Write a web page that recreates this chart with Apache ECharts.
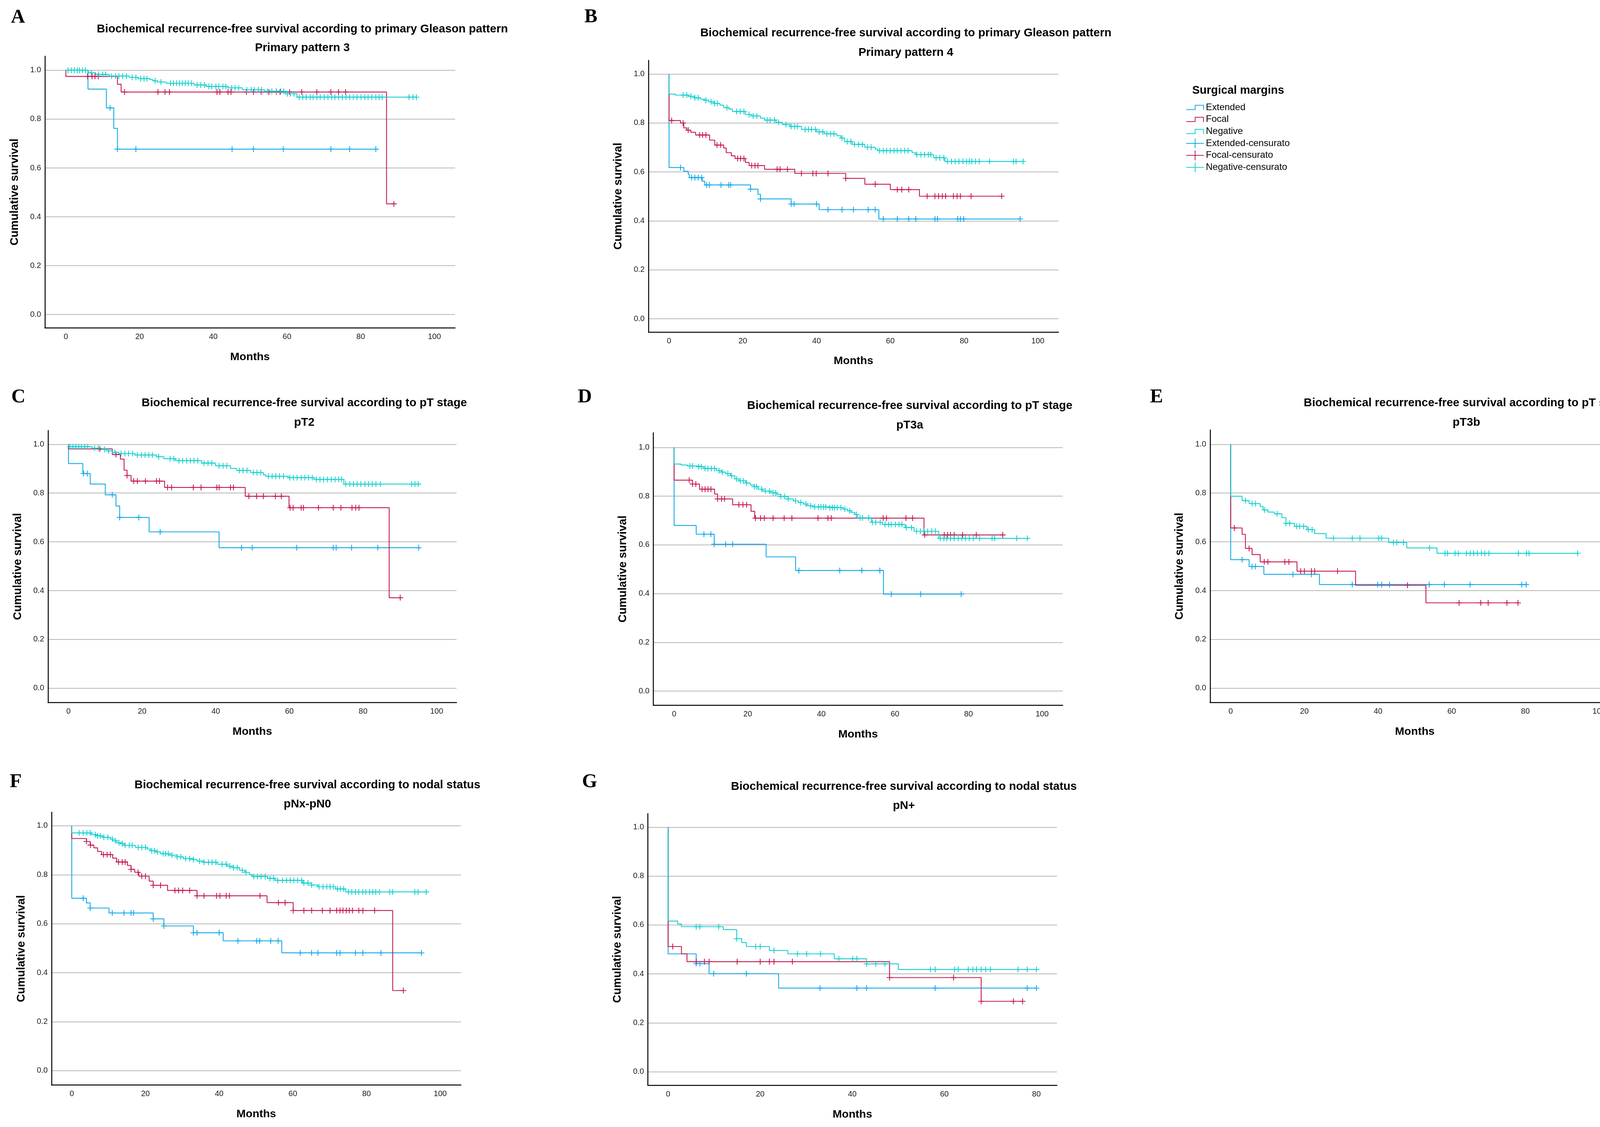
<!DOCTYPE html>
<html><head><meta charset="utf-8">
<script src="https://cdn.jsdelivr.net/npm/echarts@6.0.0/dist/echarts.min.js"></script>
<style>html,body{margin:0;padding:0;background:#fff}#c{width:4203px;height:2885px}</style>
</head><body><div id="c"></div>
<script>
// ---------- text ----------
const panelLetters = ['A','B','C','D','E','F','G'];
const panelTitles = [
  'Biochemical recurrence-free survival according to primary Gleason pattern',
  'Biochemical recurrence-free survival according to primary Gleason pattern',
  'Biochemical recurrence-free survival according to pT stage',
  'Biochemical recurrence-free survival according to pT stage',
  'Biochemical recurrence-free survival according to pT stage',
  'Biochemical recurrence-free survival according to nodal status',
  'Biochemical recurrence-free survival according to nodal status'];
const panelSubtitles = ['Primary pattern 3','Primary pattern 4','pT2','pT3a','pT3b','pNx-pN0','pN+'];
const groupNames = ['Extended','Focal','Negative'];
const censorNames = ['Extended-censurato','Focal-censurato','Negative-censurato'];
const legendTitle = 'Surgical margins';
const xAxisName = 'Months';
const yAxisName = 'Cumulative survival';
const yTicks = [0, 0.2, 0.4, 0.6, 0.8, 1.0];
const xTicks100 = [0, 20, 40, 60, 80, 100];
const xTicks80 = [0, 20, 40, 60, 80];

// ---------- data: event times (t), survival after event (s), censor times (c) ----------
// A: Primary pattern 3
const A_ext_t = [0, 6, 11, 13, 14];
const A_ext_s = [1, 0.923, 0.846, 0.762, 0.677];
const A_ext_c = [12, 14, 19, 45.1, 50.9, 59, 71.9, 77, 84.1];
const A_foc_t = [0, 0, 14, 15, 87];
const A_foc_s = [1, 0.975, 0.943, 0.911, 0.453];
const A_foc_c = [5.9, 7.1, 7.9, 8.8, 15.9, 25, 26.9, 28.1, 41, 41.8, 44, 44.8, 49, 50.9, 53, 55.1, 57.1, 58.1, 60.7, 64, 68.1, 71.9, 74, 75.9, 89];
const A_neg_t = [0, 6.1, 8.1, 11.8, 17.2, 19.6, 22.8, 23.6, 24.8, 27.2, 34.8, 38, 43.9, 47.9, 53.9, 59.5, 62.7];
const A_neg_s = [1, 0.990, 0.983, 0.976, 0.971, 0.966, 0.962, 0.957, 0.952, 0.947, 0.940, 0.934, 0.928, 0.920, 0.914, 0.904, 0.890];
const A_neg_c = [0.6,1.5,2.3,3.1,3.7,4.5,5.3,6.9,8.9,10,10.8,12.4,13.5,14.4,15.4,16.4,18,19,20.3,21.2,22,24.2,25.8,28.4,29.2,30,30.8,31.6,32.4,33.2,34.1,35.6,36.6,37.6,38.8,39.6,40.7,41.5,42.6,43.4,45,45.9,46.9,49.1,50.3,51.1,52.2,53.1,54.7,55.9,57.1,58.3,59.1,60.1,60.9,61.9,63.3,64.3,65.2,66.3,67.1,68.1,69,70.1,71.1,72.1,73,74,75,76,77,78,79,80.1,81.1,82,83,84.1,85,85.8,93.1,94.2,95.1];

// B: Primary pattern 4
const B_ext_t = [0, 0, 4, 5.2, 5.5, 9, 9.7, 22.1, 24.1, 24.8, 33.1, 40.7, 56.9];
const B_ext_s = [1, 0.618, 0.603, 0.590, 0.577, 0.562, 0.547, 0.530, 0.509, 0.490, 0.469, 0.446, 0.408];
const B_ext_c = [3.1, 6.1, 7, 7.9, 8.8, 10.2, 10.9, 14.1, 16.2, 16.7, 22.1, 24.8, 33.1, 33.9, 40, 43.1, 46.9, 50, 54, 55.9, 58.1, 61.9, 65, 66.9, 72.1, 72.8, 78.3, 79, 79.9, 95.2];
const B_foc_t = [0, 0, 3.1, 4, 4.8, 5.9, 7.2, 11, 12.4, 14.8, 15.5, 16.9, 17.9, 20.7, 21.7, 25.9, 34.1, 47.9, 53.1, 60, 67.9];
const B_foc_s = [1, 0.810, 0.800, 0.780, 0.771, 0.762, 0.751, 0.730, 0.710, 0.698, 0.679, 0.666, 0.655, 0.639, 0.626, 0.611, 0.594, 0.574, 0.550, 0.528, 0.501];
const B_foc_c = [0.7, 3.8, 5.2, 8.3, 9.1, 10, 13, 14, 18.6, 19.4, 20.3, 22.4, 23.3, 24.1, 29.3, 30.1, 32.1, 35.9, 39, 39.9, 43.1, 47.9, 55.9, 61.9, 63.1, 65, 70, 72.1, 73.1, 74.1, 75, 77.1, 78.1, 79, 81.9, 90.2];
const B_neg_t = [0, 0, 1.7, 5.2, 6.9, 8.6, 9.7, 10.7, 12.1, 13.8, 14.8, 16.2, 17.2, 20.7, 22.4, 24.8, 25.9, 29, 30.7, 32.8, 35.9, 40, 42.1, 45.5, 46.6, 47.6, 49.7, 53.1, 55.9, 56.6, 65.9, 66.9, 71.7, 74.8];
const B_neg_s = [1, 0.918, 0.914, 0.909, 0.903, 0.897, 0.893, 0.887, 0.880, 0.873, 0.863, 0.857, 0.847, 0.835, 0.829, 0.820, 0.812, 0.803, 0.794, 0.786, 0.774, 0.764, 0.756, 0.748, 0.739, 0.724, 0.713, 0.701, 0.693, 0.687, 0.679, 0.671, 0.658, 0.643];
const B_neg_c = [3.8,4.8,5.9,7,7.9,10,11.4,12.4,13.1,15.7,18.3,19.3,20.3,21.7,22.8,23.8,26.6,27.4,28.6,29.7,31.7,33.1,34.1,34.8,36.9,37.8,38.6,39.7,40.7,41.7,42.8,43.8,44.7,46.9,48.3,49.3,50.3,51.4,52.4,53.8,54.8,57.1,58.1,59,60,61,61.9,62.9,63.9,64.8,67.2,68.3,69.3,70.3,71,72.4,73.4,74.5,75.5,76.6,77.6,78.6,79.7,80.7,81.4,82.1,83.1,84.1,86.9,93.4,94.1,96];

// C: pT2
const C_ext_t = [0, 0, 3.9, 5.9, 10, 12.9, 13.9, 21.9, 40.9];
const C_ext_s = [1, 0.921, 0.880, 0.837, 0.793, 0.747, 0.700, 0.641, 0.576];
const C_ext_c = [4.1, 5.1, 11.9, 13.9, 19.1, 24.9, 47, 49.9, 62, 71.9, 72.7, 76.9, 84, 95.1];
const C_foc_t = [0, 0, 11.9, 14.1, 15.1, 15.9, 17, 26.1, 48, 59.9, 87.1];
const C_foc_s = [1, 0.981, 0.958, 0.939, 0.894, 0.872, 0.849, 0.823, 0.787, 0.740, 0.371];
const C_foc_c = [8.5, 12.9, 15.9, 17.7, 18.7, 20.9, 23.9, 24.7, 26.9, 28, 33.9, 36, 40.3, 40.9, 44, 44.8, 49, 51.1, 52.9, 56.2, 57.8, 60.2, 61, 63.2, 63.8, 67.9, 71.9, 74, 77, 78, 78.9, 90.1];
const C_neg_t = [0, 0, 6.4, 8.5, 10.9, 11.9, 13.6, 18, 23.9, 25.9, 29, 36.2, 39.9, 44, 45.7, 49.5, 52.9, 53.6, 59.7, 66.6, 74.8];
const C_neg_s = [1, 0.990, 0.984, 0.979, 0.973, 0.967, 0.962, 0.956, 0.949, 0.941, 0.933, 0.923, 0.912, 0.901, 0.893, 0.884, 0.875, 0.869, 0.863, 0.856, 0.837];
const C_neg_c = [0.4,1.2,2,2.8,3.5,4.4,5.2,7.1,8.1,9.8,10.9,12.6,14.3,15.3,16.3,17.4,18.7,19.8,20.8,21.8,22.8,24.5,27.6,28.6,30,31,32.1,33.1,34.1,35.1,36.8,37.9,38.9,40.9,42,43,46.4,47.4,48.5,50.2,51.2,52.2,54.3,55.3,56.3,57.3,58.4,60.1,61.1,62.1,63.2,64.2,65.2,66.2,67.3,68.3,69.3,70.3,71.4,72.4,73.4,74.2,75.3,76.4,77.4,78.4,79.4,80.5,81.5,82.5,83.5,84.7,93.2,94.1,95];

// D: pT3a
const D_ext_t = [0, 0, 6, 10.9, 25, 33, 56.9];
const D_ext_s = [1, 0.680, 0.644, 0.603, 0.551, 0.495, 0.398];
const D_ext_c = [8.1, 10, 10.9, 14, 15.9, 33.9, 45, 51, 55.9, 59, 67, 78];
const D_foc_t = [0, 0, 5, 6.9, 11, 11.8, 15.9, 20.9, 21.9, 67.9];
const D_foc_s = [1, 0.866, 0.850, 0.829, 0.809, 0.789, 0.765, 0.738, 0.710, 0.641];
const D_foc_c = [4.1, 5, 5.9, 7.6, 8.4, 9.2, 10, 11.8, 12.9, 13.7, 17.6, 18.7, 19.7, 22.1, 23.5, 24.5, 26.9, 29.9, 32, 39.1, 41.8, 42.7, 56.8, 57.7, 63, 64.8, 68.1, 73.4, 74.3, 75.1, 76.1, 78.4, 82.1, 89.3];
const D_neg_t = [0, 0, 1.9, 3.6, 6.4, 8.1, 11.5, 12.9, 14, 15.3, 16.5, 17.6, 19.4, 20.7, 21.8, 22.8, 24.1, 26.2, 27.9, 29, 31, 32.4, 33.7, 35.1, 36.1, 37.8, 41.9, 46, 47.1, 48.1, 49.1, 49.8, 53.6, 56.6, 62.8, 65.2, 71.9];
const D_neg_s = [1, 0.932, 0.928, 0.924, 0.921, 0.914, 0.905, 0.899, 0.893, 0.884, 0.871, 0.863, 0.854, 0.846, 0.839, 0.829, 0.821, 0.814, 0.807, 0.799, 0.789, 0.781, 0.774, 0.768, 0.761, 0.756, 0.753, 0.747, 0.740, 0.733, 0.725, 0.711, 0.693, 0.684, 0.671, 0.656, 0.627];
const D_neg_c = [4.3,5,6.7,7.4,8.4,9.2,10.1,11,12.2,13.1,14.6,15.6,17,18,18.8,19.7,21.8,22.4,23.8,24.8,25.9,26.9,27.6,29,30,31,33,34.4,35.8,37.1,38.2,39.2,39.9,40.6,41.2,42.3,43,43.6,44.3,45.3,46.4,47.7,49.5,50.5,51.2,52.9,53.9,54.8,56,57.3,58.3,59,60.1,61.1,61.9,63.1,64.5,65.9,66.9,67.9,68.9,70,71,72.3,73.3,74.1,75.1,76.1,77.2,78.2,79.2,80.2,81.3,83,86.4,87.1,93.1,96];

// E: pT3b
const E_ext_t = [0, 0, 5, 9, 24.1];
const E_ext_s = [1, 0.527, 0.499, 0.467, 0.425];
const E_ext_c = [3.1, 5.8, 6.7, 16.9, 21.9, 33, 39.9, 41, 43.1, 53.9, 58, 65, 79, 80.2];
const E_foc_t = [0, 0, 3.1, 4, 5.8, 8, 18, 33.9, 53];
const E_foc_s = [1, 0.657, 0.631, 0.573, 0.548, 0.518, 0.480, 0.422, 0.350];
const E_foc_c = [1, 5, 9.1, 10.1, 14.7, 15.8, 19, 20, 21.9, 22.8, 29, 48, 62, 67.9, 69.9, 75, 78];
const E_neg_t = [0, 0, 3.1, 5, 8, 8.8, 10.1, 11.9, 13.9, 15, 17.3, 20.7, 22.8, 25.9, 42.9, 47.8, 56];
const E_neg_s = [1, 0.787, 0.769, 0.757, 0.745, 0.731, 0.722, 0.715, 0.699, 0.676, 0.664, 0.650, 0.634, 0.615, 0.597, 0.575, 0.553];
const E_neg_c = [4, 5.8, 6.7, 9.2, 12.6, 15, 16, 17.9, 18.7, 19.8, 21.1, 22.1, 27.9, 33, 35.1, 40.2, 41, 44.2, 45.1, 46.9, 54, 58.2, 58.9, 60.9, 61.8, 64, 65, 66, 67, 68.1, 69, 70.1, 78.1, 80.3, 81, 94.2];

// F: pNx-pN0
const F_ext_t = [0, 0, 4, 5, 10.1, 22.1, 25, 33, 41.1, 57];
const F_ext_s = [1, 0.704, 0.685, 0.664, 0.644, 0.620, 0.591, 0.563, 0.530, 0.481];
const F_ext_c = [3.1, 5, 11, 14.2, 16.1, 16.8, 22.1, 25, 33, 34, 40, 45.1, 50.2, 51, 54, 56, 62, 65.1, 66.8, 71.9, 72.8, 77, 79, 83.9, 94.9];
const F_foc_t = [0, 0, 4, 5, 6, 7, 8.1, 11.1, 12.2, 15.1, 16.1, 17.1, 18.2, 21, 22.1, 26, 34, 53, 60.1, 87.1];
const F_foc_s = [1, 0.948, 0.936, 0.921, 0.910, 0.895, 0.882, 0.868, 0.852, 0.838, 0.822, 0.810, 0.794, 0.774, 0.757, 0.736, 0.714, 0.686, 0.654, 0.327];
const F_foc_c = [4, 5.1, 8.6, 9.6, 10.5, 12.7, 13.7, 14.5, 16.1, 18, 19, 20, 22.1, 24.1, 28, 29, 30.1, 32, 34, 35.9, 39.3, 40.2, 41.9, 42.8, 51.1, 56.1, 57.9, 60.1, 63, 65.1, 68, 70.1, 71.9, 72.8, 73.6, 74.5, 75.3, 76.2, 77.9, 79, 82.2, 90];
const F_neg_t = [0, 0, 5.3, 6.7, 8.4, 10.5, 11.1, 12.2, 13.2, 14.2, 16.9, 17.3, 20.4, 21.4, 22.7, 24.1, 26.5, 28.6, 30.3, 33, 34, 35.7, 39.5, 42.2, 43.9, 45.6, 47, 48.2, 49, 53.1, 55.2, 62.7, 65.1, 66.8, 71.6, 74.3];
const F_neg_s = [1, 0.971, 0.964, 0.959, 0.953, 0.946, 0.939, 0.931, 0.927, 0.920, 0.918, 0.912, 0.905, 0.898, 0.893, 0.886, 0.880, 0.873, 0.866, 0.862, 0.856, 0.851, 0.843, 0.835, 0.829, 0.818, 0.810, 0.801, 0.793, 0.785, 0.777, 0.766, 0.758, 0.751, 0.742, 0.730];
const F_neg_c = [2,3.1,4.1,5,6.4,7,7.7,8.7,9.8,11,11.8,12.8,13.7,14.5,15.6,16.4,18,19,20,21.7,22.5,23.2,24.8,25.5,26.2,27.2,28.6,29.6,30.9,32,33,34.7,35.9,37.1,38.1,39.1,40.8,41.9,42.9,43.9,44.9,46.3,47.3,49.4,50.4,51.4,52.5,53.8,54.8,55.9,57.2,58.3,59.3,60.3,61.3,62.4,63,64.1,65.1,67.1,68.2,69.2,70.1,71,72.1,72.9,73.8,75.1,76,77,77.9,79,79.8,80.8,81.7,82.5,83.5,86.3,87.1,93.1,94,96.2];

// G: pN+
const G_ext_t = [0, 0, 6.1, 8.9, 24];
const G_ext_s = [1, 0.482, 0.442, 0.401, 0.342];
const G_ext_c = [6.1, 6.9, 9.9, 17, 33, 41, 43.1, 58, 78, 80];
const G_foc_t = [0, 0, 2.9, 4.1, 48.1, 68];
const G_foc_s = [1, 0.512, 0.482, 0.450, 0.385, 0.288];
const G_foc_c = [1, 6.1, 7.9, 8.9, 15, 20, 22, 23, 27, 48.1, 62, 68, 75, 77];
const G_neg_t = [0, 0, 2.1, 2.9, 12, 14.9, 16, 17, 22, 26, 36.1, 43.1, 50];
const G_neg_s = [1, 0.616, 0.604, 0.593, 0.581, 0.544, 0.528, 0.512, 0.496, 0.482, 0.462, 0.441, 0.418];
const G_neg_c = [6.1, 6.9, 11, 14.9, 19, 20, 23, 28.1, 30.1, 33.1, 37.1, 40.1, 41, 43.1, 45.1, 47.1, 57, 58, 62.2, 63, 65.2, 66.2, 67, 68, 69, 70, 76, 78, 80];

const panelData = [
  [[A_ext_t, A_ext_s, A_ext_c], [A_foc_t, A_foc_s, A_foc_c], [A_neg_t, A_neg_s, A_neg_c]],
  [[B_ext_t, B_ext_s, B_ext_c], [B_foc_t, B_foc_s, B_foc_c], [B_neg_t, B_neg_s, B_neg_c]],
  [[C_ext_t, C_ext_s, C_ext_c], [C_foc_t, C_foc_s, C_foc_c], [C_neg_t, C_neg_s, C_neg_c]],
  [[D_ext_t, D_ext_s, D_ext_c], [D_foc_t, D_foc_s, D_foc_c], [D_neg_t, D_neg_s, D_neg_c]],
  [[E_ext_t, E_ext_s, E_ext_c], [E_foc_t, E_foc_s, E_foc_c], [E_neg_t, E_neg_s, E_neg_c]],
  [[F_ext_t, F_ext_s, F_ext_c], [F_foc_t, F_foc_s, F_foc_c], [F_neg_t, F_neg_s, F_neg_c]],
  [[G_ext_t, G_ext_s, G_ext_c], [G_foc_t, G_foc_s, G_foc_c], [G_neg_t, G_neg_s, G_neg_c]]
];
const panelXTicks = [xTicks100, xTicks100, xTicks100, xTicks100, xTicks100, xTicks100, xTicks80];

// ---------- layout (pixels / axis extents) ----------
const layout = [
  {l:115,    t:143.9,  w:1050,   h:695.4, x0:-5.68, x1:105.6, y0:-0.0546, y1:1.0576, tx:774,  ty1:75,     ty2:123,    lx:28,   ly:45},
  {l:1660.2, t:154.5,  w:1049.5, h:695.6, x0:-5.57, x1:105.6, y0:-0.0541, y1:1.056,  tx:2319, ty1:85,     ty2:134.5,  lx:1496, ly:44},
  {l:123,    t:1101.9, w:1045.7, h:696.5, x0:-5.55, x1:105.39,y0:-0.0586, y1:1.0567, tx:779,  ty1:1032,   ty2:1082,   lx:29,   ly:1017},
  {l:1672.7, t:1107.9, w:1047.9, h:697.6, x0:-5.63, x1:105.6, y0:-0.0584, y1:1.0603, tx:2329, ty1:1039,   ty2:1088.5, lx:1479, ly:1017},
  {l:3097.8, t:1100.7, w:1048.4, h:697.7, x0:-5.6,  x1:105.59,y0:-0.0586, y1:1.0586, tx:3754, ty1:1032,   ty2:1082,   lx:2944, ly:1017},
  {l:132,    t:2079.3, w:1048,   h:698.4, x0:-5.48, x1:105.62,y0:-0.059,  y1:1.0552, tx:787,  ty1:2010,   ty2:2059,   lx:25,   ly:2002},
  {l:1658.6, t:2082.7, w:1047.2, h:695.6, x0:-4.39, x1:84.46, y0:-0.0554, y1:1.0554, tx:2314, ty1:2013.5, ty2:2062.5, lx:1490, ly:2002}
];

const COLORS = ['#12A8E8', '#C4184F', '#14CFCF'];
const SANS = '"Liberation Sans", Arial, sans-serif';
const SERIF = '"Liberation Serif", "Times New Roman", serif';

const STEP_ICON = 'path://M0,0 L0.1,0 Z M0,100 L0.1,100 Z M0,68 H47.8 V24 H100 V76 H95.6 V32 H52.2 V76 H0 Z';
const CROSS_ICON = 'path://M0,46 H100 V54 H0 Z M47.8,0 H52.2 V100 H47.8 Z';
const CENSOR_SYMBOL = 'path://M43,0 H57 V43 H100 V57 H57 V100 H43 V57 H0 V43 H43 Z';

function stepData(t, s, c) {
  const d = t.map((x, i) => [x, s[i]]);
  const last = c.length ? Math.max.apply(null, c) : 0;
  if (last > t[t.length - 1]) d.push([last, s[s.length - 1]]);
  return d;
}
function censorData(t, s, c) {
  return c.map(x => {
    let v = s[0];
    for (let i = 0; i < t.length; i++) if (t[i] <= x) v = s[i];
    return [x, v];
  });
}

const grids = [], xAxes = [], yAxes = [], series = [], graphics = [];
layout.forEach((g, p) => {
  grids.push({left: g.l, top: g.t, width: g.w, height: g.h, containLabel: false, outerBoundsMode: 'none'});
  xAxes.push({
    type: 'value', gridIndex: p, min: g.x0, max: g.x1,
    axisLine: {show: true, onZero: false, lineStyle: {color: '#000', width: 2.5}},
    axisTick: {show: false, customValues: panelXTicks[p]},
    axisLabel: {customValues: panelXTicks[p], margin: 13, fontSize: 20, color: '#1a1a1a', fontFamily: SANS},
    splitLine: {show: false},
    name: xAxisName, nameLocation: 'middle', nameGap: 60,
    nameTextStyle: {fontSize: 28.5, fontWeight: 'bold', color: '#000', fontFamily: SANS}
  });
  yAxes.push({
    type: 'value', gridIndex: p, min: g.y0, max: g.y1,
    axisLine: {show: true, onZero: false, lineStyle: {color: '#000', width: 2.5}},
    axisTick: {show: false, customValues: yTicks},
    axisLabel: {customValues: yTicks, margin: 10, fontSize: 20, color: '#1a1a1a', fontFamily: SANS,
                formatter: v => v.toFixed(1)},
    splitLine: {show: true, lineStyle: {color: '#b8b8b8', width: 2}},
    name: yAxisName, nameLocation: 'middle', nameGap: 63,
    nameTextStyle: {fontSize: 29, fontWeight: 'bold', color: '#000', fontFamily: SANS}
  });
  panelData[p].forEach((grp, k) => {
    series.push({
      name: groupNames[k], type: 'line', step: 'end', xAxisIndex: p, yAxisIndex: p,
      data: stepData(grp[0], grp[1], grp[2]), showSymbol: false, symbol: 'none',
      lineStyle: {color: COLORS[k], width: 2.2}, itemStyle: {color: COLORS[k]},
      z: 2, silent: true, animation: false
    });
  });
  panelData[p].forEach((grp, k) => {
    series.push({
      name: censorNames[k], type: 'scatter', xAxisIndex: p, yAxisIndex: p,
      data: censorData(grp[0], grp[1], grp[2]), symbol: CENSOR_SYMBOL, symbolSize: [15, 15],
      itemStyle: {color: COLORS[k], opacity: 1}, z: 3, silent: true, animation: false
    });
  });
  graphics.push({type: 'text', x: g.tx, y: g.ty1, style: {text: panelTitles[p], font: 'bold 29.5px ' + SANS, fill: '#000', textAlign: 'center', textVerticalAlign: 'middle'}});
  graphics.push({type: 'text', x: g.tx, y: g.ty2, style: {text: panelSubtitles[p], font: 'bold 29.5px ' + SANS, fill: '#000', textAlign: 'center', textVerticalAlign: 'middle'}});
  graphics.push({type: 'text', x: g.lx, y: g.ly, style: {text: panelLetters[p], font: 'bold 50px ' + SERIF, fill: '#000', textAlign: 'left', textVerticalAlign: 'middle'}});
});
graphics.push({type: 'text', x: 3052, y: 232, style: {text: legendTitle, font: 'bold 29px ' + SANS, fill: '#000', textAlign: 'left', textVerticalAlign: 'middle'}});

const legendData = groupNames.map(n => ({name: n, icon: STEP_ICON}))
  .concat(censorNames.map(n => ({name: n, icon: CROSS_ICON})));

const option = {
  backgroundColor: '#fff',
  animation: false,
  grid: grids, xAxis: xAxes, yAxis: yAxes, series: series,
  legend: {
    data: legendData, orient: 'vertical', left: 3037, top: 262.5, padding: 0,
    itemWidth: 45, itemHeight: 25, itemGap: 5.7, symbolKeepAspect: false,
    itemStyle: {borderWidth: 0},
    textStyle: {fontSize: 24, color: '#000', fontFamily: SANS, lineHeight: 25},
    selectedMode: false
  },
  graphic: {elements: graphics}
};
const chart = echarts.init(document.getElementById('c'), null, {renderer: 'canvas', width: 4203, height: 2885});
chart.setOption(option);
</script>
</body></html>
